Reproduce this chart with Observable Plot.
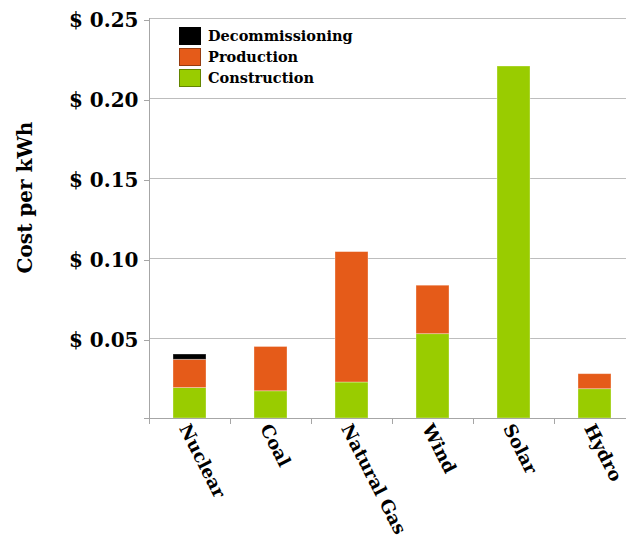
<!DOCTYPE html>
<html>
<head>
<meta charset="utf-8">
<script src="https://cdn.jsdelivr.net/npm/d3@7"></script>
<script src="https://cdn.jsdelivr.net/npm/@observablehq/plot@0.6"></script>
<style>
  html, body { margin: 0; padding: 0; background: #fff; }
  #wrap { position: relative; width: 626px; height: 535px; overflow: hidden; }
  #legend { position: absolute; left: 179px; top: 25px; font-family: "DejaVu Serif", serif; font-weight: bold; font-size: 14.5px; color: #000; }
  .item { display: flex; align-items: center; height: 21px; }
  .sw { width: 22px; height: 18px; margin-right: 7px; box-sizing: border-box; border: 1px solid rgba(0,0,0,0.35); }
</style>
</head>
<body>
<div id="wrap"><div id="legend"></div></div>
<script>
const categories = ["Nuclear", "Coal", "Natural Gas", "Wind", "Solar", "Hydro"];
const series = ["Construction", "Production", "Decommissioning"];
const construction = [0.019, 0.017, 0.0225, 0.0527, 0.22, 0.0183];
const production = [0.0177, 0.0277, 0.0815, 0.0303, 0, 0.0094];
const decommissioning = [0.0033, 0, 0, 0, 0, 0];
const colors = ["#99cc00", "#e55b19", "#000000"];
const yTicks = [0.05, 0.10, 0.15, 0.20, 0.25];
const legendOrder = ["Decommissioning", "Production", "Construction"];
const yTitle = "Cost per kWh";

const valuesBySeries = [construction, production, decommissioning];
const rows = [];
series.forEach((s, si) => categories.forEach((c, ci) => rows.push({category: c, series: s, value: valuesBySeries[si][ci]})));

const step = 81;
const chart = Plot.plot({
  width: 626,
  height: 535,
  marginLeft: 149,
  marginRight: 0,
  marginTop: 18,
  marginBottom: 117,
  style: {fontFamily: "DejaVu Serif", fontWeight: "bold", color: "#000", background: "#fff", overflow: "visible"},
  x: {domain: categories, range: [149, 149 + step * categories.length], paddingInner: 0.59, paddingOuter: 0.295},
  y: {domain: [0, 0.25]},
  color: {domain: series, range: colors},
  marks: [
    Plot.gridY(yTicks, {stroke: "#bdbdbd", strokeOpacity: 1}),
    Plot.barY(rows, {x: "category", y: "value", fill: "series", order: series, stroke: "#fff", strokeOpacity: 0.4, strokeWidth: 0.8}),
    Plot.ruleY([0], {stroke: "#a6a6a6", insetLeft: -5}),
    Plot.ruleX(categories, {x: d => d, dx: -step / 2, y1: 0, y2: 0, insetBottom: -6, stroke: "#a6a6a6"}),
    Plot.ruleX(categories.slice(0, 1), {x: d => d, dx: -step / 2, y1: 0, y2: 0.25, stroke: "#a6a6a6"}),
    Plot.axisY({ticks: yTicks, tickFormat: d => "$ " + d.toFixed(2), tickSize: 5, tickPadding: 6, fontSize: 20, stroke: "#a6a6a6", dy: 2, label: null}),
    Plot.text([yTitle], {frameAnchor: "left", textAnchor: "middle", rotate: -90, dx: -124, dy: -21, fontSize: 20, fontWeight: "bold"}),
    Plot.axisX({tickSize: 0, tickRotate: 63, tickPadding: 7, fontSize: 18, label: null, dx: -6})
  ]
});
document.getElementById("wrap").prepend(chart);

const legend = document.getElementById("legend");
legendOrder.forEach(s => {
  const item = document.createElement("div");
  item.className = "item";
  const sw = document.createElement("div");
  sw.className = "sw";
  sw.style.background = colors[series.indexOf(s)];
  const t = document.createElement("span");
  t.textContent = s;
  item.append(sw, t);
  legend.append(item);
});
</script>
</body>
</html>
